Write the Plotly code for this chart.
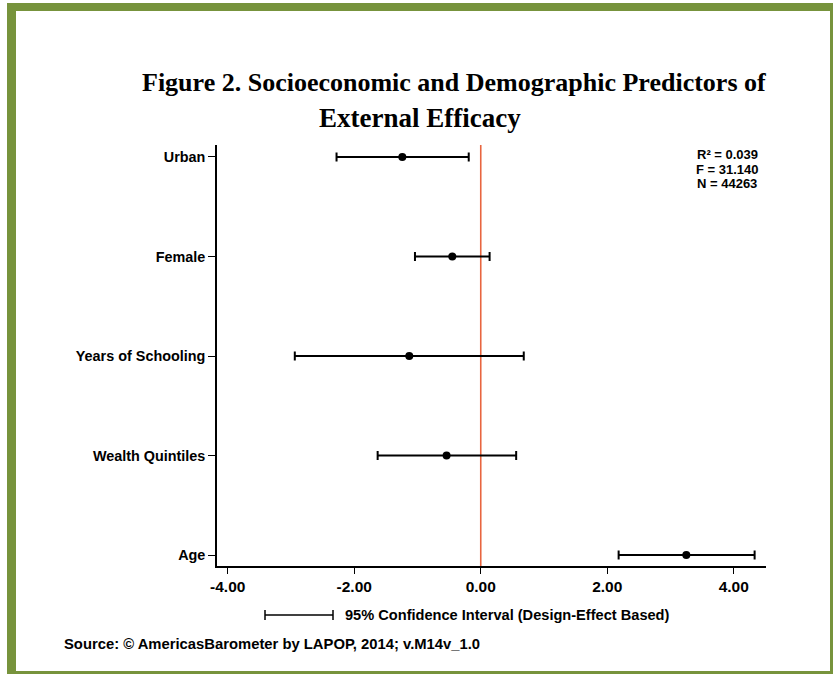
import plotly.graph_objects as go

# ---- data ----
categories = ["Urban", "Female", "Years of Schooling", "Wealth Quintiles", "Age"]
positions = [5, 4, 3, 2, 1]
coef = [-1.24, -0.45, -1.13, -0.54, 3.25]
ci_low = [-2.28, -1.04, -2.94, -1.63, 2.18]
ci_high = [-0.19, 0.14, 0.68, 0.56, 4.33]
x_ticks = [-4, -2, 0, 2, 4]
stats_text = ["R² = 0.039", "F = 31.140", "N = 44263"]

W, H = 833, 674
L, R, T, B = 217, 766, 145, 566  # plot area in pixels


def px(x):
    return (x - L) / (R - L)


def py(y):
    return (B - y) / (B - T)


err_plus = [h - c for h, c in zip(ci_high, coef)]
err_minus = [c - l for c, l in zip(coef, ci_low)]

fig = go.Figure()
fig.add_trace(go.Scatter(
    x=coef, y=positions, mode="markers",
    marker=dict(color="black", size=8),
    error_x=dict(type="data", symmetric=False, array=err_plus, arrayminus=err_minus,
                 color="black", thickness=2, width=4.5),
    showlegend=False, hoverinfo="skip",
))

bold = "Liberation Sans, Arial, sans-serif"
green = "#77933C"

shapes = [
    dict(type="line", xref="x", yref="paper", x0=0, x1=0, y0=0, y1=1,
         line=dict(color="#E8653F", width=1.6), layer="below"),
    # legend error-bar glyph
    dict(type="line", xref="paper", yref="paper", x0=px(265), x1=px(333), y0=py(615), y1=py(615),
         line=dict(color="black", width=1.5)),
    dict(type="line", xref="paper", yref="paper", x0=px(265), x1=px(265), y0=py(610), y1=py(620),
         line=dict(color="black", width=1.5)),
    dict(type="line", xref="paper", yref="paper", x0=px(333), x1=px(333), y0=py(610), y1=py(620),
         line=dict(color="black", width=1.5)),
]
# green frame
for (x0, y0, x1, y1) in [(7, 3, 840, 11), (7, 3, 16, 680), (830, 3, 840, 680), (7, 671, 840, 680)]:
    shapes.append(dict(type="rect", xref="paper", yref="paper",
                       x0=px(x0), x1=px(x1), y0=py(y1), y1=py(y0),
                       fillcolor=green, line=dict(width=0), layer="above"))

serif = "Liberation Serif, Times New Roman, serif"
annotations = [
    dict(text="<b>Figure 2. Socioeconomic and Demographic Predictors of</b>", xref="paper", yref="paper",
         x=px(454), y=py(83), xanchor="center", yanchor="middle", showarrow=False,
         font=dict(family=serif, size=26, color="black")),
    dict(text="<b>External Efficacy</b>", xref="paper", yref="paper",
         x=px(420), y=py(118), xanchor="center", yanchor="middle", showarrow=False,
         font=dict(family=serif, size=27, color="black")),
    dict(text="<b>95% Confidence Interval (Design-Effect Based)</b>", xref="paper", yref="paper",
         x=px(343), y=py(615), xanchor="left", yanchor="middle", showarrow=False,
         font=dict(family=bold, size=14.6, color="black")),
    dict(text="<b>Source: © AmericasBarometer by LAPOP, 2014; v.M14v_1.0</b>", xref="paper", yref="paper",
         x=px(62), y=py(644), xanchor="left", yanchor="middle", showarrow=False,
         font=dict(family=bold, size=14.8, color="black")),
]
for i, s in enumerate(stats_text):
    annotations.append(dict(text=f"<b>{s}</b>", xref="paper", yref="paper",
                            x=px(727), y=py(154.5 + 14.5 * i), xanchor="center", yanchor="middle",
                            showarrow=False, font=dict(family=bold, size=13, color="black")))

fig.update_layout(
    width=W, height=H,
    margin=dict(l=L, r=W - R, t=T, b=H - B, pad=0),
    paper_bgcolor="white", plot_bgcolor="white",
    shapes=shapes, annotations=annotations,
    xaxis=dict(range=[-4.17, 4.51], tickvals=x_ticks, ticktext=[f"<b>{v:.2f}</b>" for v in x_ticks],
               showgrid=False, zeroline=False, showline=True, linecolor="black", linewidth=1.5,
               ticks="outside", ticklen=6, tickwidth=1.2, tickcolor="black",
               tickfont=dict(family=bold, size=15.5, color="black")),
    yaxis=dict(range=[0.89, 5.12], tickvals=positions, ticktext=[f"<b>{c}</b>" for c in categories],
               showgrid=False, zeroline=False, showline=True, linecolor="black", linewidth=1.5,
               ticks="outside", ticklen=7, tickwidth=1.2, tickcolor="black",
               tickfont=dict(family=bold, size=14.4, color="black")),
)

fig.write_html("out.html", config={"displayModeBar": False},
               post_script="document.body.style.margin='0';document.body.style.overflow='hidden';")
